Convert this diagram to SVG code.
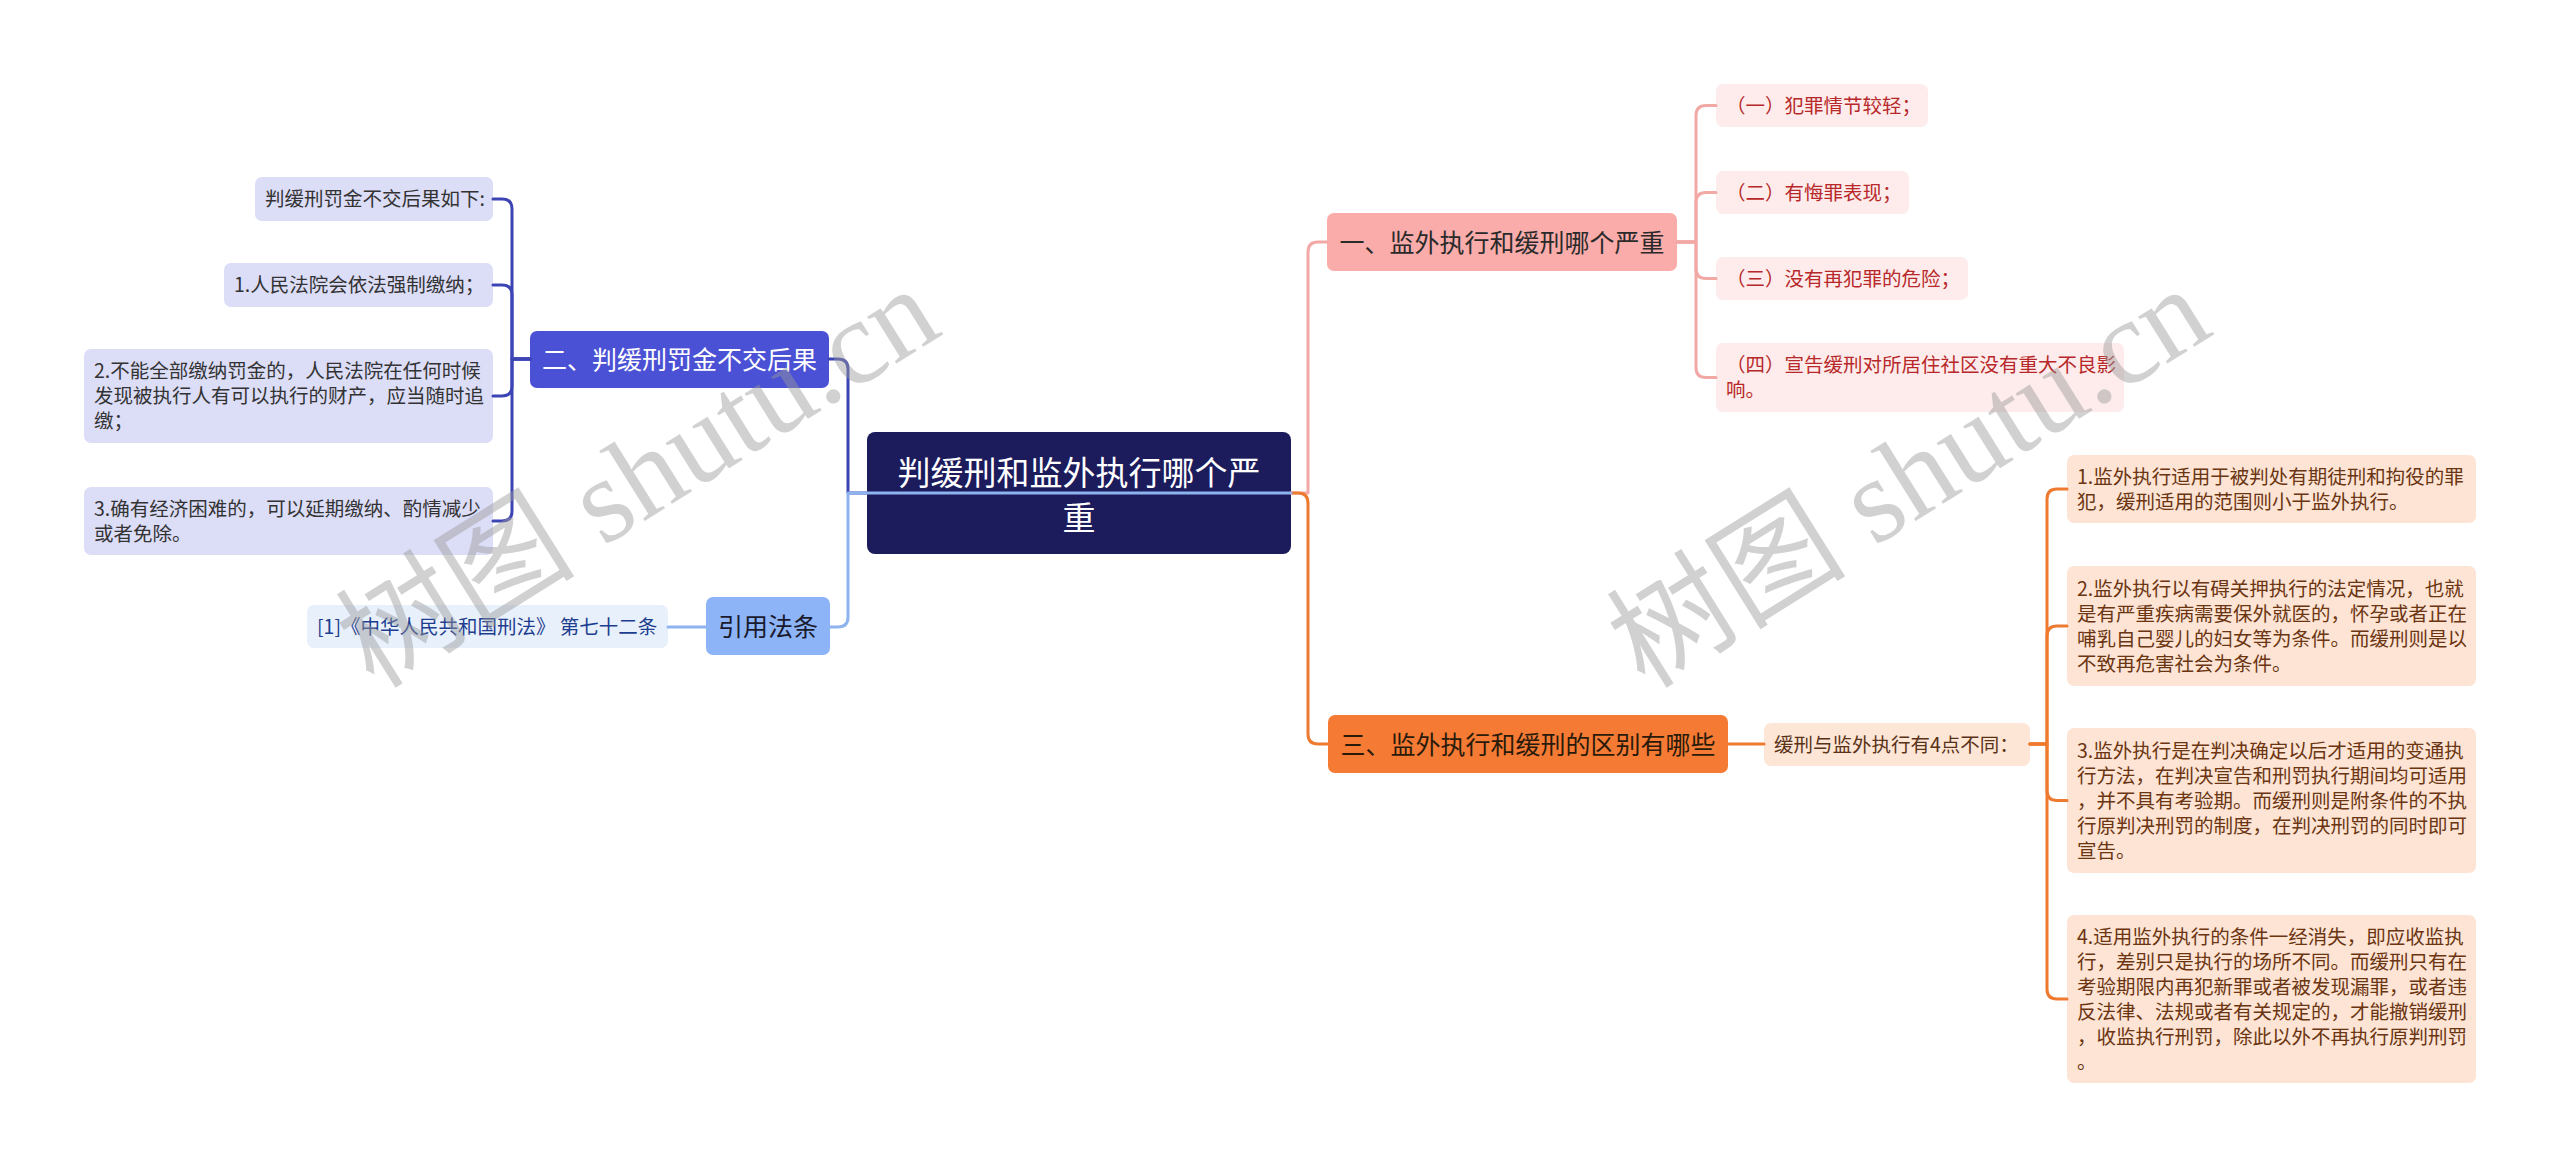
<svg xmlns="http://www.w3.org/2000/svg" width="2560" height="1168" viewBox="0 0 2560 1168">
<style>
text{font-family:"Noto Sans CJK SC","Noto Sans",sans-serif}
.t{font-size:19.5px}
.l1{font-size:25px;text-anchor:middle}
.root{font-size:33px;text-anchor:middle;fill:#ffffff}
.c{fill:none;stroke-width:3;stroke-linecap:round;stroke-linejoin:round}
.wm{font-family:"Liberation Serif","Noto Sans CJK SC",serif;font-size:120px;fill:#9a9a9a;opacity:0.45}
</style>
<rect width="2560" height="1168" fill="#ffffff"/>

<g id="root">
<rect x="867" y="432" width="424" height="122" rx="8" fill="#1C1B5C"/>
<text class="root" x="1079" y="484.5">判缓刑和监外执行哪个严</text>
<text class="root" x="1079" y="529.5">重</text>
</g>

<g id="n2">
<rect x="530" y="331" width="299" height="57" rx="7" fill="#4B51D4"/>
<text class="l1" x="679.5" y="369" fill="#ffffff">二、判缓刑罚金不交后果</text>
</g>
<g id="n2a">
<rect x="255" y="177" width="238" height="44" rx="7" fill="#DCDDF7"/>
<text class="t" x="265" y="206" fill="#333333">判缓刑罚金不交后果如下:</text>
</g>
<g id="n2b">
<rect x="224" y="263" width="269" height="44" rx="7" fill="#DCDDF7"/>
<text class="t" x="234" y="292" fill="#333333">1.人民法院会依法强制缴纳；</text>
</g>
<g id="n2c">
<rect x="84" y="349" width="409" height="94" rx="7" fill="#DCDDF7"/>
<text class="t" x="94" y="378" fill="#333333">2.不能全部缴纳罚金的，人民法院在任何时候</text>
<text class="t" x="94" y="403" fill="#333333">发现被执行人有可以执行的财产，应当随时追</text>
<text class="t" x="94" y="428" fill="#333333">缴；</text>
</g>
<g id="n2d">
<rect x="84" y="487" width="409" height="68" rx="7" fill="#DCDDF7"/>
<text class="t" x="94" y="515.5" fill="#333333">3.确有经济困难的，可以延期缴纳、酌情减少</text>
<text class="t" x="94" y="540.5" fill="#333333">或者免除。</text>
</g>

<g id="nref">
<rect x="706" y="597" width="124" height="58" rx="7" fill="#8DB4F7"/>
<text class="l1" x="768" y="635.5" fill="#1a1a2e">引用法条</text>
</g>
<g id="nrefa">
<rect x="307" y="605" width="361" height="43" rx="7" fill="#E8F0FC"/>
<text class="t" x="317" y="633.5" fill="#1D3D8F">[1]《中华人民共和国刑法》 第七十二条</text>
</g>

<g id="n1">
<rect x="1327" y="213" width="350" height="58" rx="7" fill="#F9ACAA"/>
<text class="l1" x="1502" y="251.5" fill="#2a2a2a">一、监外执行和缓刑哪个严重</text>
</g>
<g id="n1a">
<rect x="1716" y="84" width="212" height="43" rx="7" fill="#FDECEB"/>
<text class="t" x="1726" y="112.5" fill="#B8282A">（一）犯罪情节较轻；</text>
</g>
<g id="n1b">
<rect x="1716" y="171" width="193" height="43" rx="7" fill="#FDECEB"/>
<text class="t" x="1726" y="199.5" fill="#B8282A">（二）有悔罪表现；</text>
</g>
<g id="n1c">
<rect x="1716" y="257" width="252" height="43" rx="7" fill="#FDECEB"/>
<text class="t" x="1726" y="285.5" fill="#B8282A">（三）没有再犯罪的危险；</text>
</g>
<g id="n1d">
<rect x="1716" y="343" width="408" height="69" rx="7" fill="#FDECEB"/>
<text class="t" x="1726" y="372" fill="#B8282A">（四）宣告缓刑对所居住社区没有重大不良影</text>
<text class="t" x="1726" y="397" fill="#B8282A">响。</text>
</g>

<g id="n3">
<rect x="1328" y="715" width="400" height="58" rx="7" fill="#F57B35"/>
<text class="l1" x="1528" y="753.5" fill="#2a1a0a">三、监外执行和缓刑的区别有哪些</text>
</g>
<g id="n3a">
<rect x="1764" y="723" width="266" height="43" rx="7" fill="#FDE6D6"/>
<text class="t" x="1774" y="751.5" fill="#5A3218">缓刑与监外执行有4点不同：</text>
</g>
<g id="n3b">
<rect x="2067" y="455" width="409" height="68" rx="7" fill="#FDE4D4"/>
<text class="t" x="2077" y="483.5" fill="#6B3512">1.监外执行适用于被判处有期徒刑和拘役的罪</text>
<text class="t" x="2077" y="508.5" fill="#6B3512">犯，缓刑适用的范围则小于监外执行。</text>
</g>
<g id="n3c">
<rect x="2067" y="566" width="409" height="120" rx="7" fill="#FDE4D4"/>
<text class="t" x="2077" y="595.5" fill="#6B3512">2.监外执行以有碍关押执行的法定情况，也就</text>
<text class="t" x="2077" y="620.5" fill="#6B3512">是有严重疾病需要保外就医的，怀孕或者正在</text>
<text class="t" x="2077" y="645.5" fill="#6B3512">哺乳自己婴儿的妇女等为条件。而缓刑则是以</text>
<text class="t" x="2077" y="670.5" fill="#6B3512">不致再危害社会为条件。</text>
</g>
<g id="n3d">
<rect x="2067" y="728" width="409" height="145" rx="7" fill="#FDE4D4"/>
<text class="t" x="2077" y="757.5" fill="#6B3512">3.监外执行是在判决确定以后才适用的变通执</text>
<text class="t" x="2077" y="782.5" fill="#6B3512">行方法，在判决宣告和刑罚执行期间均可适用</text>
<text class="t" x="2077" y="807.5" fill="#6B3512">，并不具有考验期。而缓刑则是附条件的不执</text>
<text class="t" x="2077" y="832.5" fill="#6B3512">行原判决刑罚的制度，在判决刑罚的同时即可</text>
<text class="t" x="2077" y="857.5" fill="#6B3512">宣告。</text>
</g>
<g id="n3e">
<rect x="2067" y="915" width="409" height="168" rx="7" fill="#FDE4D4"/>
<text class="t" x="2077" y="943.5" fill="#6B3512">4.适用监外执行的条件一经消失，即应收监执</text>
<text class="t" x="2077" y="968.5" fill="#6B3512">行，差别只是执行的场所不同。而缓刑只有在</text>
<text class="t" x="2077" y="993.5" fill="#6B3512">考验期限内再犯新罪或者被发现漏罪，或者违</text>
<text class="t" x="2077" y="1018.5" fill="#6B3512">反法律、法规或者有关规定的，才能撤销缓刑</text>
<text class="t" x="2077" y="1043.5" fill="#6B3512">，收监执行刑罚，除此以外不再执行原判刑罚</text>
<text class="t" x="2077" y="1068.5" fill="#6B3512">。</text>
</g>

<g id="connectors">
<path class="c" stroke="#F2A9A6" d="M1291 493H1308V252Q1308 242 1318 242H1327"/>
<path class="c" stroke="#EE7A30" d="M1291 493H1298Q1308 493 1308 503V734Q1308 744 1318 744H1328"/>
<path class="c" stroke="#3D45B5" d="M867 493H848V369Q848 359 838 359H829"/>
<path class="c" stroke="#8FB3EE" d="M1291 493H848V617Q848 627 838 627H830"/>
<path class="c" stroke="#8FB3EE" d="M706 627H668"/>
<path class="c" stroke="#3D45B5" d="M530 359H512V209Q512 199 502 199H493"/>
<path class="c" stroke="#3D45B5" d="M530 359H512V295Q512 285 502 285H493"/>
<path class="c" stroke="#3D45B5" d="M530 359H512V386Q512 396 502 396H493"/>
<path class="c" stroke="#3D45B5" d="M530 359H512V511Q512 521 502 521H493"/>
<path class="c" stroke="#F2A9A6" d="M1677 242H1696V115.5Q1696 105.5 1706 105.5H1716"/>
<path class="c" stroke="#F2A9A6" d="M1677 242H1696V202.5Q1696 192.5 1706 192.5H1716"/>
<path class="c" stroke="#F2A9A6" d="M1677 242H1696V268.5Q1696 278.5 1706 278.5H1716"/>
<path class="c" stroke="#F2A9A6" d="M1677 242H1696V367.5Q1696 377.5 1706 377.5H1716"/>
<path class="c" stroke="#EE7A30" d="M1728 744H1764"/>
<path class="c" stroke="#EE7A30" d="M2030 744H2047V499Q2047 489 2057 489H2067"/>
<path class="c" stroke="#EE7A30" d="M2030 744H2047V636Q2047 626 2057 626H2067"/>
<path class="c" stroke="#EE7A30" d="M2030 744H2047V790.5Q2047 800.5 2057 800.5H2067"/>
<path class="c" stroke="#EE7A30" d="M2030 744H2047V989Q2047 999 2057 999H2067"/>
</g>

<g id="watermark">
<text class="wm" transform="translate(374,690) rotate(-32)">树图 shutu.cn</text>
<text class="wm" transform="translate(1645,690) rotate(-32)">树图 shutu.cn</text>
</g>
</svg>
